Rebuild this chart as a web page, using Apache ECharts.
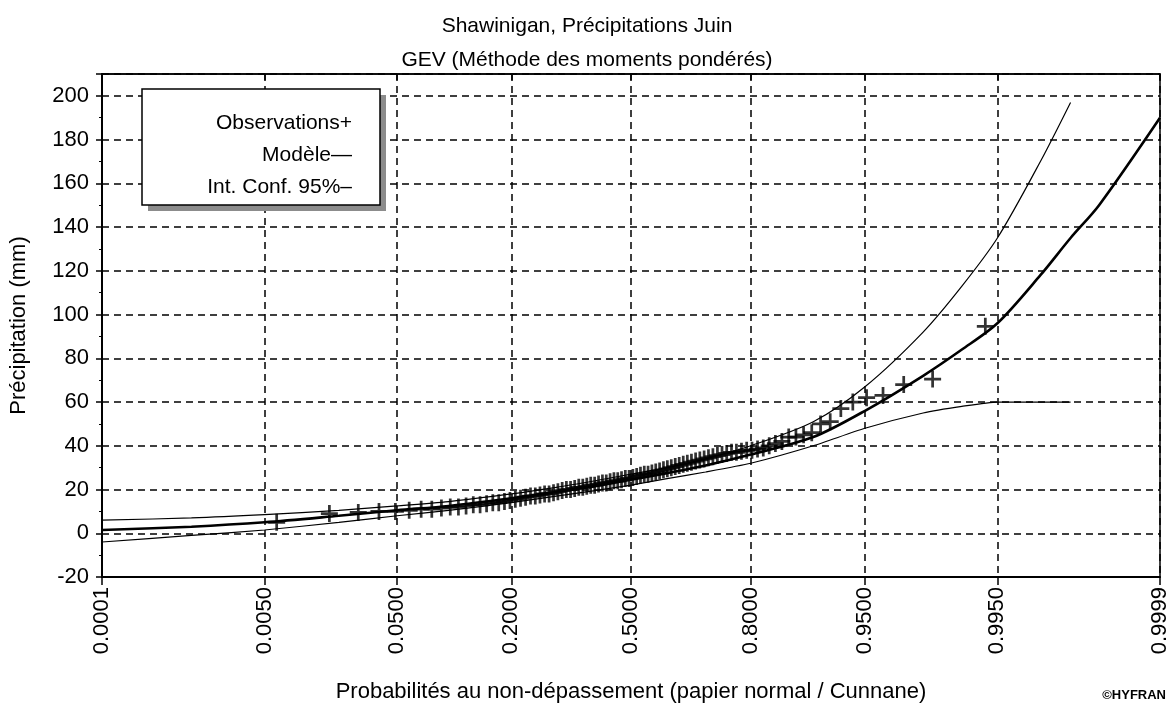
<!DOCTYPE html>
<html>
<head>
<meta charset="utf-8">
<script src="https://cdn.jsdelivr.net/npm/echarts@6/dist/echarts.min.js"></script>
<style>
  html, body { margin: 0; padding: 0; background: #fff; }
  #chart { width: 1174px; height: 708px; }
</style>
</head>
<body>
<div id="chart"></div>
<script>
// probabilites affichees sur l'axe (papier normal)
const probTicks = [0.0001, 0.005, 0.05, 0.2, 0.5, 0.8, 0.95, 0.995, 0.9999];
const probTickLabels = ['0.0001', '0.0050', '0.0500', '0.2000', '0.5000', '0.8000', '0.9500', '0.9950', '0.9999'];

// observations triees (mm), positions de Cunnane
const obsValues = [
  5, 9, 9.5, 10, 10, 10.5, 11, 11, 11.5, 12,
  12, 12.5, 13, 13, 13.5, 14, 14, 14.5, 15, 15.5,
  16, 16.5, 17, 17, 17.5, 18, 18, 18.5, 19, 19.5,
  20, 20, 20.5, 21, 21, 21.5, 22, 22, 22.5, 23,
  23, 23.5, 24, 24, 24.5, 25, 25, 25.5, 26, 26.5,
  27, 27, 27.5, 28, 28.5, 29, 29.5, 30, 30.5, 31,
  31.5, 32, 32.5, 33, 33.5, 34, 34.5, 35, 35.5, 36,
  36.5, 37, 37, 37.5, 38, 38, 38.5, 39, 40, 41,
  42, 44, 44, 45, 46, 50, 51, 57, 60, 62,
  63, 68, 70.5, 94.6
];

// modele GEV
const modelProb = [0.0001, 0.001, 0.005, 0.02, 0.05, 0.1, 0.2, 0.3, 0.4, 0.5, 0.6, 0.7, 0.8, 0.9, 0.95, 0.98, 0.99, 0.995, 0.998, 0.999, 0.9995, 0.9999];
const modelValues = [1.5, 3, 5, 8, 10.5, 12.5, 16, 19, 21.5, 24.5, 27.5, 31, 36, 44, 56, 72, 84, 96, 118, 135, 150, 190];

// intervalle de confiance 95%
const upperProb = [0.0001, 0.001, 0.005, 0.02, 0.05, 0.1, 0.2, 0.3, 0.4, 0.5, 0.6, 0.7, 0.8, 0.9, 0.95, 0.98, 0.99, 0.995, 0.998, 0.999];
const upperValues = [6, 7, 8.5, 10.5, 12.5, 14.5, 18, 21, 24, 27, 30, 34, 40, 51, 67, 92, 113, 135, 170, 197];
const lowerProb = [0.0001, 0.001, 0.005, 0.02, 0.05, 0.1, 0.2, 0.3, 0.4, 0.5, 0.6, 0.7, 0.8, 0.9, 0.95, 0.98, 0.99, 0.995, 0.999];
const lowerValues = [-4, -1, 1.5, 5, 8, 10.5, 14, 17, 19.5, 22, 25, 28, 32, 40, 48, 55, 58, 60, 60];

// quantile de la loi normale (Acklam)
const probit = (p) => {
  const a = [-3.969683028665376e+01, 2.209460984245205e+02, -2.759285104469687e+02, 1.383577518672690e+02, -3.066479806614716e+01, 2.506628277459239e+00];
  const b = [-5.447609879822406e+01, 1.615858368580409e+02, -1.556989798598866e+02, 6.680131188771972e+01, -1.328068155288572e+01];
  const c = [-7.784894002430293e-03, -3.223964580411365e-01, -2.400758277161838e+00, -2.549732539343734e+00, 4.374664141464968e+00, 2.938163982698783e+00];
  const d = [7.784695709041462e-03, 3.224671290700398e-01, 2.445134137142996e+00, 3.754408661907416e+00];
  const pl = 0.02425;
  let q, r;
  if (p < pl) {
    q = Math.sqrt(-2 * Math.log(p));
    return (((((c[0] * q + c[1]) * q + c[2]) * q + c[3]) * q + c[4]) * q + c[5]) / ((((d[0] * q + d[1]) * q + d[2]) * q + d[3]) * q + 1);
  }
  if (p > 1 - pl) {
    q = Math.sqrt(-2 * Math.log(1 - p));
    return -(((((c[0] * q + c[1]) * q + c[2]) * q + c[3]) * q + c[4]) * q + c[5]) / ((((d[0] * q + d[1]) * q + d[2]) * q + d[3]) * q + 1);
  }
  q = p - 0.5;
  r = q * q;
  return (((((a[0] * r + a[1]) * r + a[2]) * r + a[3]) * r + a[4]) * r + a[5]) * q / (((((b[0] * r + b[1]) * r + b[2]) * r + b[3]) * r + b[4]) * r + 1);
};

const tickZ = probTicks.map(probit);
const n = obsValues.length;
const obsData = obsValues.map((v, i) => [probit((i + 1 - 0.4) / (n + 0.2)), v]);
const toLine = (ps, vs) => ps.map((p, i) => [probit(p), vs[i]]);

const font = 'Liberation Sans, Arial, sans-serif';
const tickLabel = (v) => {
  const i = tickZ.findIndex((z) => Math.abs(z - v) < 1e-6);
  return i >= 0 ? probTickLabels[i] : '';
};

const chart = echarts.init(document.getElementById('chart'));
chart.setOption({
  backgroundColor: '#fff',
  animation: false,
  title: {
    text: 'Shawinigan, Précipitations Juin\nGEV (Méthode des moments pondérés)',
    left: 'center',
    top: 4,
    textStyle: { fontFamily: font, fontSize: 21, fontWeight: 'normal', color: '#000', lineHeight: 34 },
  },
  grid: {
    left: 99, right: 14, top: 74, bottom: 125,
    show: true, borderColor: '#000', borderWidth: 1.5, backgroundColor: '#fff',
  },
  xAxis: [
    {
      type: 'value',
      min: tickZ[0],
      max: tickZ[tickZ.length - 1],
      name: 'Probabilités au non-dépassement (papier normal / Cunnane)',
      nameLocation: 'middle',
      nameGap: 104,
      nameTextStyle: { fontFamily: font, fontSize: 22, color: '#000' },
      axisLine: { show: true, onZero: false, lineStyle: { color: '#000', width: 2 } },
      axisTick: { show: true, customValues: tickZ, length: 8, lineStyle: { color: '#000', width: 1.5 } },
      axisLabel: {
        customValues: tickZ, rotate: 90, margin: 10,
        fontFamily: font, fontSize: 22, color: '#000',
        formatter: tickLabel,
      },
      splitLine: { show: true, lineStyle: { color: '#000', width: 1.5, type: [7, 5] } },
    },
    {
      type: 'value',
      position: 'top',
      min: tickZ[0],
      max: tickZ[tickZ.length - 1],
      axisLine: { show: true, onZero: false, lineStyle: { color: '#000', width: 1.5 } },
      axisTick: { show: true, inside: true, customValues: tickZ, length: 6, lineStyle: { color: '#000', width: 1.5 } },
      axisLabel: { show: false },
      splitLine: { show: false },
    },
  ],
  yAxis: {
    type: 'value',
    min: -20,
    max: 210,
    interval: 20,
    name: 'Précipitation (mm)',
    nameLocation: 'middle',
    nameGap: 72,
    nameTextStyle: { fontFamily: font, fontSize: 22, color: '#000' },
    axisLine: { show: true, onZero: false, lineStyle: { color: '#000', width: 2 } },
    axisTick: { show: true, length: 6, lineStyle: { color: '#000', width: 1.5 } },
    minorTick: { show: true, splitNumber: 2, length: 3, lineStyle: { color: '#000' } },
    axisLabel: {
      margin: 13, fontFamily: font, fontSize: 22, color: '#000',
      formatter: (v) => (v > 200 ? '' : String(v)),
    },
    splitLine: { show: true, lineStyle: { color: '#000', width: 1.5, type: [7, 5] } },
  },
  series: [
    {
      name: 'Int. Conf. sup',
      type: 'line',
      data: toLine(upperProb, upperValues),
      smooth: 0.3,
      showSymbol: false,
      lineStyle: { color: '#000', width: 1.2 },
      z: 3,
    },
    {
      name: 'Int. Conf. inf',
      type: 'line',
      data: toLine(lowerProb, lowerValues),
      smooth: 0.2,
      showSymbol: false,
      lineStyle: { color: '#000', width: 1.2 },
      z: 3,
    },
    {
      name: 'Modèle',
      type: 'line',
      data: toLine(modelProb, modelValues),
      smooth: 0.3,
      showSymbol: false,
      lineStyle: { color: '#000', width: 2.6 },
      z: 4,
    },
    {
      name: 'Observations',
      type: 'scatter',
      data: obsData,
      symbol: 'path://M4.2,0H5.8V4.2H10V5.8H5.8V10H4.2V5.8H0V4.2H4.2Z',
      symbolSize: 17,
      itemStyle: { color: '#000' },
      z: 5,
    },
  ],
  graphic: [
    {
      type: 'rect',
      shape: { x: 148, y: 95, width: 238, height: 116 },
      style: { fill: '#8c8c8c' },
      z: 10,
    },
    {
      type: 'rect',
      shape: { x: 142, y: 89, width: 238, height: 116 },
      style: { fill: '#fff', stroke: '#000', lineWidth: 1.5 },
      z: 11,
    },
    {
      type: 'text', x: 352, y: 123, z: 12,
      style: { text: 'Observations+', fontFamily: font, fontSize: 21, fill: '#000', align: 'right', verticalAlign: 'middle' },
    },
    {
      type: 'text', x: 352, y: 155, z: 12,
      style: { text: 'Modèle—', fontFamily: font, fontSize: 21, fill: '#000', align: 'right', verticalAlign: 'middle' },
    },
    {
      type: 'text', x: 352, y: 187, z: 12,
      style: { text: 'Int. Conf. 95%–', fontFamily: font, fontSize: 21, fill: '#000', align: 'right', verticalAlign: 'middle' },
    },
    {
      type: 'text', right: 8, bottom: 6, z: 12,
      style: { text: '©HYFRAN', fontFamily: font, fontSize: 13, fontWeight: 'bold', fill: '#000' },
    },
  ],
});
</script>
</body>
</html>
